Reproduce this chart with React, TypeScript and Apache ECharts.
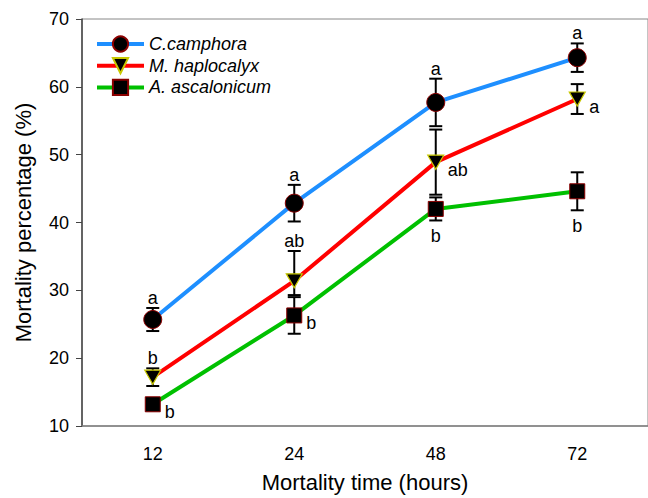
import React, { useEffect, useRef } from "react";
import * as echarts from "echarts";

const categories = ["12", "24", "48", "72"];
const seriesNames = ["C.camphora", "M. haplocalyx", "A. ascalonicum"];

const camphora = [25.7, 42.85, 57.7, 64.3];
const camphoraErrUp = [1.7, 2.7, 3.5, 2.1];
const camphoraErrDown = [1.7, 2.7, 3.5, 2.1];
const camphoraLetters = ["a", "a", "a", "a"];
const camphoraLetterPos = ["top", "top", "top", "top"];

const haplocalyx = [17.2, 31.4, 48.9, 58.2];
const haplocalyxErrUp = [1.3, 4.4, 4.8, 2.2];
const haplocalyxErrDown = [1.3, 2.1, 4.8, 2.2];
const haplocalyxLetters = ["b", "ab", "ab", "a"];
const haplocalyxLetterPos = ["top", "top", "right", "right"];

const ascalonicum = [13.2, 26.3, 42.0, 44.6];
const ascalonicumErrUp = [0.5, 2.7, 1.7, 2.8];
const ascalonicumErrDown = [0.5, 2.7, 1.7, 2.8];
const ascalonicumLetters = ["b", "b", "b", "b"];
const ascalonicumLetterPos = ["right", "right", "bottom", "bottom"];

const FONT = "'Liberation Sans', Arial, sans-serif";

function errorSeries(
  values: number[],
  up: number[],
  down: number[],
  letters: string[],
  pos: string[]
) {
  return {
    type: "custom",
    z: 1,
    silent: true,
    data: values.map((v, i) => [i, v, up[i], down[i]]),
    renderItem: (params: any, api: any) => {
      const i = params.dataIndex;
      const x = api.value(0);
      const y = api.value(1);
      const u = api.value(2);
      const d = api.value(3);
      const p = api.coord([x, y]);
      const hi = api.coord([x, y + u]);
      const lo = api.coord([x, y - d]);
      const hw = 6.5;
      const ls = { stroke: "#000", lineWidth: 2 };
      let tx = p[0];
      let ty = p[1];
      let align = "center";
      if (pos[i] === "top") {
        ty = hi[1] - 10;
      } else if (pos[i] === "bottom") {
        ty = lo[1] + 16;
      } else {
        tx = p[0] + 12;
        ty = p[1] + 8;
        align = "left";
      }
      return {
        type: "group",
        children: [
          { type: "line", shape: { x1: p[0], y1: hi[1], x2: p[0], y2: lo[1] }, style: ls },
          { type: "line", shape: { x1: p[0] - hw, y1: hi[1], x2: p[0] + hw, y2: hi[1] }, style: ls },
          { type: "line", shape: { x1: p[0] - hw, y1: lo[1], x2: p[0] + hw, y2: lo[1] }, style: ls },
          {
            type: "text",
            style: {
              text: letters[i],
              x: tx,
              y: ty,
              align,
              verticalAlign: "middle",
              fill: "#000",
              font: `18px ${FONT}`,
            },
          },
        ],
      };
    },
  };
}

export default function App() {
  const ref = useRef<HTMLDivElement>(null);
  useEffect(() => {
    if (!ref.current) return;
    const chart = echarts.init(ref.current, undefined, { renderer: "svg" });
    const lineBase = {
      type: "line",
      z: 2,
      showSymbol: true,
      lineStyle: { width: 4 },
    };
    chart.setOption({
      animation: false,
      backgroundColor: "#fff",
      textStyle: { fontFamily: FONT },
      grid: {
        left: 82,
        top: 19,
        right: -6,
        bottom: 67,
        show: true,
        borderColor: "#888",
        borderWidth: 1,
      },
      legend: {
        left: 95,
        top: 35,
        orient: "vertical",
        padding: 0,
        itemWidth: 47,
        itemHeight: 19,
        itemGap: 3.7,
        data: seriesNames,
        lineStyle: { width: 4 },
        textStyle: { fontSize: 18, fontStyle: "italic", color: "#000", fontFamily: FONT },
      },
      xAxis: {
        type: "category",
        data: categories,
        boundaryGap: true,
        name: "Mortality time (hours)",
        nameLocation: "middle",
        nameGap: 45,
        nameTextStyle: { fontSize: 22, color: "#000", fontFamily: FONT },
        axisLine: { lineStyle: { color: "#808080", width: 1.5 } },
        axisTick: { alignWithLabel: true, length: 4, lineStyle: { color: "#808080" } },
        axisLabel: { fontSize: 18, color: "#000", margin: 19, fontFamily: FONT },
        splitLine: { show: false },
      },
      yAxis: {
        type: "value",
        min: 10,
        max: 70,
        interval: 10,
        name: "Mortality percentage (%)",
        nameLocation: "middle",
        nameGap: 48,
        nameTextStyle: { fontSize: 22, color: "#000", fontFamily: FONT },
        axisLine: { show: true, lineStyle: { color: "#444", width: 1.5 } },
        axisTick: { show: true, length: 6, lineStyle: { color: "#444" } },
        axisLabel: { fontSize: 18, color: "#000", margin: 13, fontFamily: FONT },
        splitLine: { show: false },
      },
      series: [
        errorSeries(camphora, camphoraErrUp, camphoraErrDown, camphoraLetters, camphoraLetterPos),
        errorSeries(haplocalyx, haplocalyxErrUp, haplocalyxErrDown, haplocalyxLetters, haplocalyxLetterPos),
        errorSeries(ascalonicum, ascalonicumErrUp, ascalonicumErrDown, ascalonicumLetters, ascalonicumLetterPos),
        {
          ...lineBase,
          name: seriesNames[0],
          data: camphora,
          symbol: "circle",
          symbolSize: 18,
          color: "#1e8fff",
          lineStyle: { width: 4, color: "#1e8fff" },
          itemStyle: { color: "#000", borderColor: "#8b0000", borderWidth: 1 },
        },
        {
          ...lineBase,
          name: seriesNames[1],
          data: haplocalyx,
          symbol: "triangle",
          symbolRotate: 180,
          symbolSize: [16, 14],
          lineStyle: { width: 4, color: "#ff0000" },
          itemStyle: { color: "#000", borderColor: "#c8c800", borderWidth: 1.2 },
        },
        {
          ...lineBase,
          name: seriesNames[2],
          data: ascalonicum,
          symbol: "rect",
          symbolSize: 15,
          lineStyle: { width: 4, color: "#00c000" },
          itemStyle: { color: "#000", borderColor: "#8b0000", borderWidth: 1 },
        },
      ],
    });
    return () => chart.dispose();
  }, []);
  return (
    <div
      ref={ref}
      style={{ position: "fixed", left: 0, top: 0, width: 648, height: 498, background: "#fff" }}
    />
  );
}
